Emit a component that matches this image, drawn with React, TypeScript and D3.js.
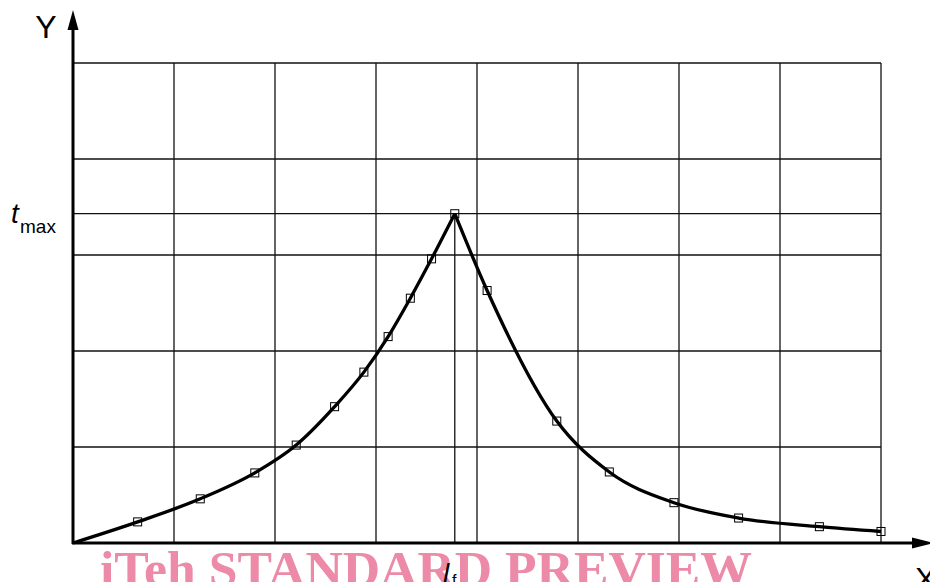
import React from "react";
import * as d3 from "d3";

// grid units: x 0..8 columns, y 0..5 rows
const xGrid = [0, 1, 2, 3, 4, 5, 6, 7, 8];
const yGrid = [0, 1, 2, 3, 4, 5];
const tMax = 3.43;
const lF = 3.78;

// rising branch (up to the peak at l_f)
const riseX = [0, 0.64, 1.26, 1.8, 2.21, 2.59, 2.88, 3.12, 3.34, 3.55, 3.78];
const riseY = [0, 0.22, 0.46, 0.73, 1.02, 1.42, 1.78, 2.15, 2.55, 2.96, 3.43];
// falling branch (after the peak)
const fallX = [3.78, 4.1, 4.79, 5.31, 5.95, 6.59, 7.39, 8.0];
const fallY = [3.43, 2.63, 1.27, 0.74, 0.42, 0.26, 0.17, 0.12];

const W = 930;
const H = 582;

const App = () => {
  const x = d3.scaleLinear().domain([0, 8]).range([73, 881]);
  const y = d3.scaleLinear().domain([0, 5]).range([543, 63]);

  const line = d3
    .line<[number, number]>()
    .x(d => x(d[0]))
    .y(d => y(d[1]))
    .curve(d3.curveMonotoneX);

  const rise: [number, number][] = riseX.map((v, i) => [v, riseY[i]]);
  const fall: [number, number][] = fallX.map((v, i) => [v, fallY[i]]);
  // markers: every measured point except the origin
  const markers = rise.slice(1).concat(fall.slice(1));

  const grid = "#111";
  const x0 = x(0);
  const y0 = y(0);

  return (
    <svg
      width={W}
      height={H}
      style={{ position: "absolute", left: 0, top: 0, background: "#fff" }}
      fontFamily="Liberation Sans, Arial, sans-serif"
    >
      {/* grid */}
      {xGrid.slice(1).map(v => (
        <line key={"vx" + v} x1={x(v)} x2={x(v)} y1={y(5)} y2={y0} stroke={grid} strokeWidth={1.3} />
      ))}
      {yGrid.slice(1).map(v => (
        <line key={"hy" + v} x1={x0} x2={x(8)} y1={y(v)} y2={y(v)} stroke={grid} strokeWidth={1.3} />
      ))}
      <line x1={x0} x2={x(8)} y1={y(tMax)} y2={y(tMax)} stroke={grid} strokeWidth={1.3} />
      <line x1={x(lF)} x2={x(lF)} y1={y(tMax)} y2={y0} stroke={grid} strokeWidth={1.3} />

      {/* axes */}
      <line x1={x0} x2={x0} y1={y0 + 1} y2={26} stroke="#000" strokeWidth={3} />
      <path d={`M${x0},10 L${x0 - 5.5},30 L${x0 + 5.5},30 Z`} fill="#000" />
      <line x1={x0 - 1} x2={915} y1={y0} y2={y0} stroke="#000" strokeWidth={3} />
      <path d={`M934,${y0} L912,${y0 - 5.5} L912,${y0 + 5.5} Z`} fill="#000" />

      {/* curve */}
      <path d={line(rise) || ""} fill="none" stroke="#000" strokeWidth={3.3} />
      <path d={line(fall) || ""} fill="none" stroke="#000" strokeWidth={3.3} />

      {markers.map((d, i) => (
        <rect
          key={i}
          x={x(d[0]) - 4}
          y={y(d[1]) - 4}
          width={8}
          height={8}
          fill="none"
          stroke="#000"
          strokeWidth={1}
        />
      ))}

      {/* labels */}
      <text x={46} y={38} fontSize={32} textAnchor="middle" fill="#000">Y</text>
      <text x={11} y={223} fontSize={28} fontStyle="italic" fill="#000">t</text>
      <text x={20} y={233} fontSize={19} fill="#000">max</text>

      {/* watermark */}
      <text
        x={100}
        y={586}
        fontSize={50}
        fontWeight="bold"
        fontFamily="Liberation Serif, Times New Roman, serif"
        fill="#ec8aa8"
        textLength={652}
        lengthAdjust="spacingAndGlyphs"
      >
        iTeh STANDARD PREVIEW
      </text>

      <text x={443} y={583} fontSize={28} fontStyle="italic" fill="#000">l</text>
      <text x={452} y={586} fontSize={16} fill="#000">f</text>
      <text x={915} y={590} fontSize={32} fill="#000">X</text>
    </svg>
  );
};

export default App;
